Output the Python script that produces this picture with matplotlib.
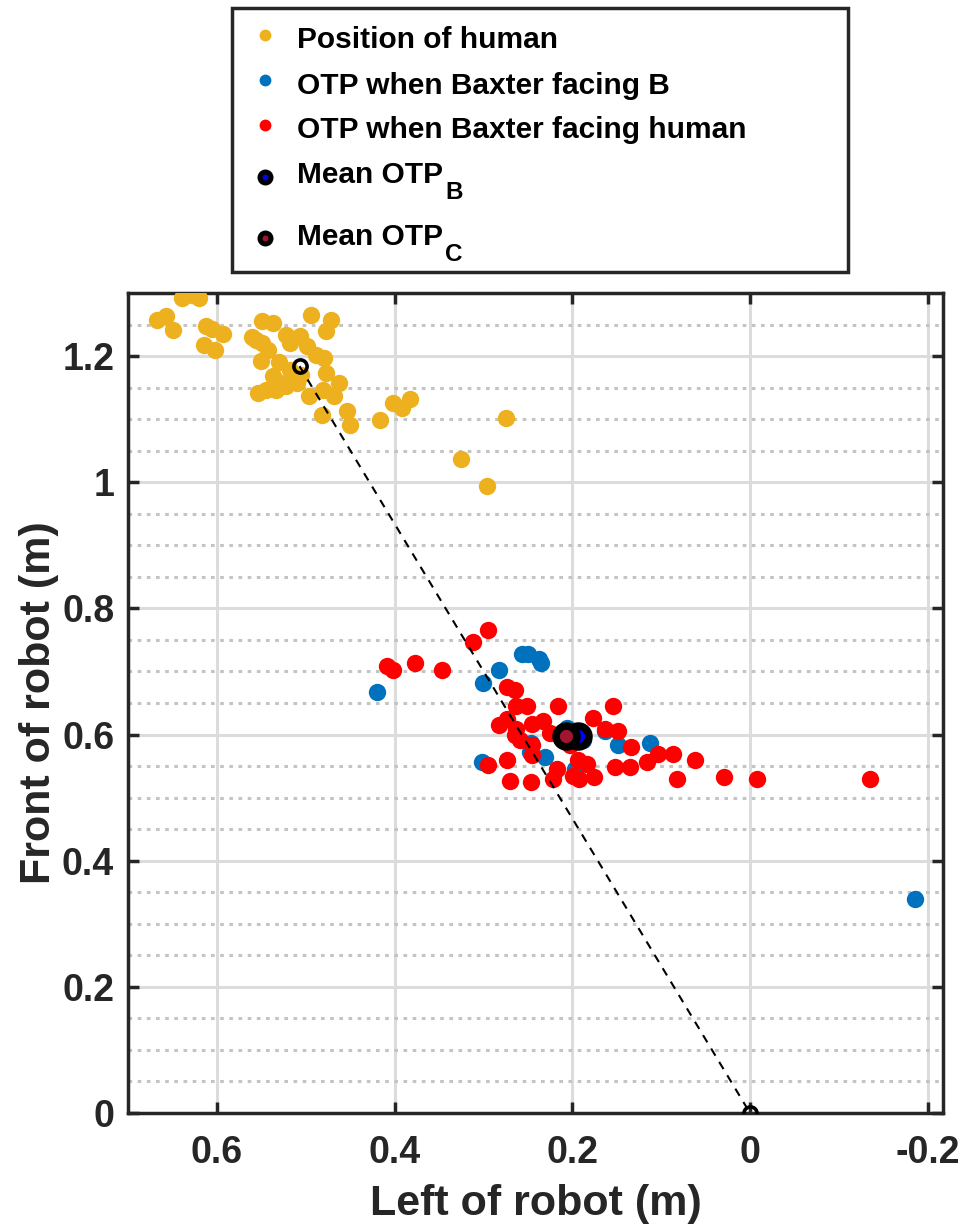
import matplotlib
matplotlib.use('Agg')
import matplotlib.pyplot as plt
from matplotlib.lines import Line2D
from matplotlib.patches import Rectangle
from matplotlib.text import Annotation
from matplotlib.ticker import MultipleLocator

plt.rcParams['font.family'] = ['Liberation Sans', 'DejaVu Sans']
plt.rcParams['font.weight'] = 'bold'

# position of human (x = left of robot, y = front of robot)
human_x = [0.667, 0.657, 0.649, 0.639, 0.628, 0.620, 0.612, 0.605, 0.593, 0.614,
           0.602, 0.549, 0.537, 0.556, 0.549, 0.543, 0.550, 0.522, 0.507, 0.518,
           0.494, 0.471, 0.477, 0.499, 0.488, 0.479, 0.518, 0.537, 0.529, 0.477,
           0.462, 0.554, 0.545, 0.534, 0.522, 0.510, 0.496, 0.481, 0.468, 0.482,
           0.453, 0.450, 0.416, 0.402, 0.392, 0.383, 0.275, 0.325, 0.296, 0.560,
           0.530, 0.505]
human_y = [1.257, 1.264, 1.241, 1.292, 1.297, 1.292, 1.248, 1.243, 1.235, 1.218,
           1.210, 1.256, 1.253, 1.226, 1.221, 1.210, 1.192, 1.234, 1.232, 1.221,
           1.265, 1.257, 1.240, 1.216, 1.202, 1.197, 1.178, 1.169, 1.158, 1.173,
           1.158, 1.142, 1.147, 1.147, 1.153, 1.158, 1.137, 1.147, 1.137, 1.107,
           1.113, 1.091, 1.099, 1.126, 1.118, 1.132, 1.102, 1.037, 0.994, 1.230,
           1.190, 1.170]

# OTP when Baxter facing B
otpb_x = [0.420, 0.301, 0.283, 0.257, 0.250, 0.237, 0.235, 0.302, 0.246, 0.248,
          0.231, 0.206, 0.188, 0.163, 0.149, 0.113, 0.197, -0.186, 0.200, 0.190]
otpb_y = [0.667, 0.681, 0.703, 0.727, 0.727, 0.719, 0.713, 0.557, 0.587, 0.572,
          0.564, 0.611, 0.592, 0.606, 0.583, 0.587, 0.545, 0.339, 0.600, 0.595]

# OTP when Baxter facing human
otpc_x = [0.408, 0.402, 0.377, 0.347, 0.312, 0.295, 0.274, 0.265, 0.263, 0.251,
          0.282, 0.273, 0.263, 0.265, 0.259, 0.245, 0.233, 0.245, 0.245, 0.225,
          0.216, 0.295, 0.273, 0.270, 0.246, 0.222, 0.217, 0.199, 0.194, 0.192,
          0.183, 0.175, 0.177, 0.163, 0.154, 0.148, 0.134, 0.135, 0.152, 0.116,
          0.104, 0.087, 0.082, 0.062, 0.029, -0.008, -0.135, 0.203]
otpc_y = [0.709, 0.703, 0.713, 0.702, 0.746, 0.765, 0.675, 0.671, 0.646, 0.646,
          0.615, 0.624, 0.608, 0.600, 0.591, 0.616, 0.621, 0.583, 0.567, 0.603,
          0.646, 0.551, 0.559, 0.527, 0.524, 0.529, 0.546, 0.535, 0.559, 0.529,
          0.553, 0.532, 0.627, 0.608, 0.646, 0.605, 0.580, 0.548, 0.548, 0.557,
          0.569, 0.569, 0.529, 0.559, 0.532, 0.529, 0.530, 0.583]

mean_b = (0.194, 0.598)
mean_c = (0.207, 0.598)
mean_human = (0.507, 1.184)
robot = (0.0, 0.0)

legend_labels = ['Position of human', 'OTP when Baxter facing B',
                 'OTP when Baxter facing human', 'Mean OTP', 'Mean OTP']
legend_subs = [None, None, None, 'B', 'C']

c_human = '#EDB120'
c_b = '#0072BD'
c_c = '#FF0000'
c_mb = '#0000FF'
c_mc = '#A2142F'
dark = '#262626'

W, H = 964, 1224
fig = plt.figure(figsize=(W / 100, H / 100), dpi=100)
ax = fig.add_axes([0.1328, 0.0907, 0.978 - 0.1328, 0.7606 - 0.0907])

ax.plot(human_x, human_y, 'o', color=c_human, ms=12.5, mec='none', zorder=3)
ax.plot(otpb_x, otpb_y, 'o', color=c_b, ms=12.5, mec='none', zorder=3)
ax.plot(otpc_x, otpc_y, 'o', color=c_c, ms=12.5, mec='none', zorder=4)
ax.plot([mean_human[0], robot[0]], [mean_human[1], robot[1]], 'k--', lw=1.5,
        dashes=(4, 3.5), zorder=5)
ax.plot([mean_human[0], robot[0]], [mean_human[1], robot[1]], 'o', ms=9.5,
        mfc='none', mec='k', mew=2.6, zorder=6)
ax.plot(mean_b[0], mean_b[1], 'o', ms=15, mfc=c_mb, mec='k', mew=5.5, zorder=7)
ax.plot(mean_c[0], mean_c[1], 'o', ms=15, mfc=c_mc, mec='k', mew=5.5, zorder=8)

ax.set_xlim(0.7, -0.217)
ax.set_ylim(0, 1.3)
ax.set_xticks([0.6, 0.4, 0.2, 0, -0.2])
ax.set_xticklabels(['0.6', '0.4', '0.2', '0', '-0.2'])
ax.set_yticks([0, 0.2, 0.4, 0.6, 0.8, 1.0, 1.2])
ax.set_yticklabels(['0', '0.2', '0.4', '0.6', '0.8', '1', '1.2'])
ax.yaxis.set_minor_locator(MultipleLocator(0.05))

ax.grid(True, which='major', color='#dcdcdc', lw=2.2, zorder=0)
ax.grid(True, which='minor', axis='y', color='#c4c4c4', lw=2.2,
        linestyle=(0, (1.2, 1.8)), zorder=0)
ax.set_axisbelow(True)
ax.tick_params(which='major', direction='in', length=8, width=2.5,
               top=True, right=True, labelsize=27, colors=dark, pad=10)
ax.tick_params(axis='x', which='major', pad=15.5)
ax.tick_params(which='minor', length=0)
for s in ax.spines.values():
    s.set_linewidth(2.5)
    s.set_color(dark)

ax.set_xlabel('Left of robot (m)', fontsize=31, fontweight='bold', color=dark,
              labelpad=9.5)
ax.set_ylabel('Front of robot (m)', fontsize=31, fontweight='bold', color=dark,
              labelpad=2)

# legend, drawn by hand so the rows and the low subscripts sit as in the reference
leg_markers = [
    dict(color=c_human, mec='none', ms=8.5),
    dict(color=c_b, mec='none', ms=8.5),
    dict(color=c_c, mec='none', ms=8.5),
    dict(mfc=c_mb, mec='k', ms=7.9, mew=3.6),
    dict(mfc=c_mc, mec='k', ms=7.9, mew=3.6),
]
marker_y = [35, 80, 125, 177, 238]
base_y = [48, 94, 138, 183, 245]
for lab, sub, mk, my, by in zip(legend_labels, legend_subs, leg_markers, marker_y, base_y):
    fig.add_artist(Line2D([265 / W], [1 - my / H], transform=fig.transFigure,
                          ls='none', marker='o', **mk))
    t = fig.text(297 / W, 1 - by / H, lab, fontsize=21.5, fontweight='bold',
                 color='k', va='baseline', ha='left')
    if sub:
        fig.add_artist(Annotation(sub, xy=(1, 0), xycoords=t, xytext=(2, -10),
                                  textcoords='offset pixels', fontsize=17.5,
                                  fontweight='bold', color='k', va='baseline',
                                  ha='left'))

fig.add_artist(Rectangle((232 / W, 1 - 272 / H), 616 / W, 264 / H,
                         transform=fig.transFigure, fill=False, ec=dark, lw=2.5))

fig.savefig('out.png', dpi=100)
